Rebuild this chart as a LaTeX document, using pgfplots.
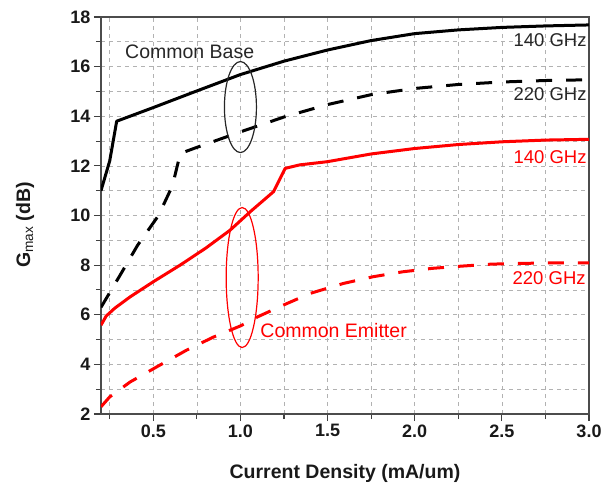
\documentclass[border=0pt]{standalone}
\usepackage{pgfplots}
\pgfplotsset{compat=1.18}
\usepackage{fontspec}
\setmainfont{Liberation Sans}
\pgfplotstableread{
x y
0.20 11.0
0.25 12.2
0.29 13.8
0.50 14.35
0.75 15.02
1.00 15.68
1.25 16.22
1.50 16.67
1.75 17.05
2.00 17.33
2.25 17.48
2.50 17.58
2.75 17.64
3.00 17.68
}\cbA
\pgfplotstableread{
x y
0.20 6.30
0.31 7.60
0.41 8.80
0.53 10.0
0.61 11.2
0.655 12.5
0.74 12.72
1.00 13.37
1.25 13.97
1.50 14.47
1.75 14.87
2.00 15.12
2.25 15.28
2.50 15.38
2.75 15.44
3.00 15.47
}\cbB
\pgfplotstableread{
x y
0.20 5.58
0.23 5.95
0.28 6.27
0.367 6.72
0.50 7.33
0.654 8.00
0.80 8.68
0.941 9.41
1.056 10.15
1.19 10.96
1.257 11.90
1.34 12.04
1.50 12.17
1.75 12.48
2.00 12.70
2.25 12.86
2.50 12.97
2.75 13.04
3.00 13.07
}\ceA
\pgfplotstableread{
x y
0.20 2.29
0.25 2.69
0.367 3.29
0.52 3.90
0.69 4.57
0.845 5.10
1.00 5.55
1.10 5.92
1.25 6.40
1.40 6.86
1.59 7.26
1.76 7.53
1.93 7.73
2.10 7.87
2.27 7.96
2.44 8.04
2.62 8.07
2.79 8.09
3.00 8.09
}\ceB
\begin{document}
\begin{tikzpicture}
\begin{axis}[
  scale only axis, width=488bp, height=397bp,
  xmin=0.2, xmax=3.0, ymin=2, ymax=18,
  xtick={0.5,1.0,1.5,2.0,2.5,3.0},
  minor xtick={0.25,0.75,1.25,1.75,2.25,2.75},
  ytick={2,4,...,18},
  minor ytick={3,5,...,17},
  grid=both,
  major grid style={draw=black!30, line width=0.7bp, dash pattern=on 4bp off 4bp},
  minor grid style={draw=black!30, line width=0.7bp, dash pattern=on 4bp off 4bp},
  tick align=outside, tick pos=left,
  major tick length=7bp, minor tick length=5bp,
  tick style={draw=black!75, line width=1.1bp},
  axis line style={draw=black!70, line width=1.2bp},
  /pgf/number format/assume math mode=true,
  ticklabel style={font=\fontsize{18bp}{21bp}\selectfont\bfseries, text=black!90},
  xticklabel style={/pgf/number format/.cd, fixed, fixed zerofill, precision=1},
  xlabel={Current Density (mA/um)},
  ylabel={G\textsubscript{\mdseries max} (dB)},
  label style={font=\fontsize{19.5bp}{23bp}\selectfont\bfseries, text=black!90},
  xlabel style={at={([yshift=-59bp]rel axis cs:0.5,0)}, anchor=center},
  ylabel style={at={([xshift=-76bp]rel axis cs:0,0.476)}, anchor=center},
  clip=true,
]
\addplot[black, line width=3bp, line join=round] table {\cbA};
\addplot[black, line width=3bp, line join=round, dash pattern=on 16bp off 14bp] table {\cbB};
\addplot[red, line width=3bp, line join=round] table {\ceA};
\addplot[red, line width=3bp, line join=round, dash pattern=on 16bp off 14bp] table {\ceB};
\draw[black!85, line width=1.2bp] (axis cs:1.0,14.37) ellipse [x radius=16bp, y radius=45.5bp];
\draw[red, line width=1.2bp] (axis cs:1.01,7.5) ellipse [x radius=16bp, y radius=70bp];
\begin{scope}[every node/.style={font=\fontsize{18.5bp}{22bp}\selectfont, inner sep=0pt}]
\node[black!85, anchor=center, font=\fontsize{19.5bp}{22bp}\selectfont] at (axis cs:0.709,16.59) {Common Base};
\node[red, anchor=west, font=\fontsize{19.5bp}{22bp}\selectfont] at (axis cs:1.114,5.38) {Common Emitter};
\node[black!85, anchor=east] at (axis cs:2.987,17.07) {140 GHz};
\node[black!85, anchor=east] at (axis cs:2.987,14.88) {220 GHz};
\node[red, anchor=east] at (axis cs:2.987,12.34) {140 GHz};
\node[red, anchor=east] at (axis cs:2.982,7.46) {220 GHz};
\end{scope}
\coordinate (sw) at (rel axis cs:0,0);
\coordinate (ne) at (rel axis cs:1,1);
\end{axis}
\pgfresetboundingbox
\path ([shift={(-101bp,-73bp)}]sw) rectangle ([shift={(23bp,17bp)}]ne);
\end{tikzpicture}
\end{document}
